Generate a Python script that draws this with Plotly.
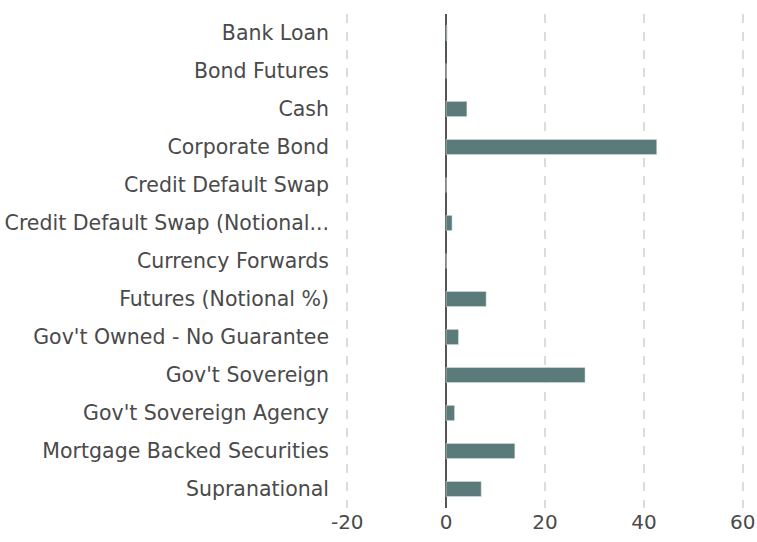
import plotly.graph_objects as go

categories = [
    "Bank Loan",
    "Bond Futures",
    "Cash",
    "Corporate Bond",
    "Credit Default Swap",
    "Credit Default Swap (Notional...",
    "Currency Forwards",
    "Futures (Notional %)",
    "Gov't Owned - No Guarantee",
    "Gov't Sovereign",
    "Gov't Sovereign Agency",
    "Mortgage Backed Securities",
    "Supranational",
]
values = [0.2, 0.0, 4.2, 42.6, 0.0, 1.2, 0.0, 8.1, 2.5, 28.1, 1.7, 13.9, 7.1]
tick_vals = [-20, 0, 20, 40, 60]
tick_text = ["-20", "0", "20", "40", "60"]

fig = go.Figure(
    go.Bar(
        y=categories,
        x=values,
        orientation="h",
        width=0.4,
        marker=dict(color="#5b7b7a", line=dict(color="#dfe6e6", width=0.5)),
        hoverinfo="x+y",
    )
)

font_family = "'DejaVu Sans', sans-serif"

fig.update_layout(
    width=757,
    height=542,
    margin=dict(l=346, r=13, t=14, b=34),
    plot_bgcolor="white",
    paper_bgcolor="white",
    showlegend=False,
    font=dict(family=font_family, size=20.5, color="#4a4a4a"),
    bargap=0.6,
)

fig.update_xaxes(
    range=[-20.25, 60.25],
    tickvals=tick_vals,
    ticktext=tick_text,
    automargin=False,
    showgrid=True,
    gridcolor="#dcdcdc",
    griddash="dash",
    gridwidth=2,
    zeroline=True,
    zerolinecolor="#555555",
    zerolinewidth=2,
    showline=False,
    tickfont=dict(size=20, color="#4a4a4a"),
    ticks="",
)

fig.update_yaxes(
    autorange="reversed",
    automargin=False,
    showgrid=False,
    showline=False,
    ticks="",
    ticklabelstandoff=16,
    tickfont=dict(size=20.5, color="#4a4a4a"),
)

fig.write_html(
    "out.html",
    config={"displayModeBar": False},
    post_script="document.body.style.margin='0';document.body.style.overflow='hidden';",
)
